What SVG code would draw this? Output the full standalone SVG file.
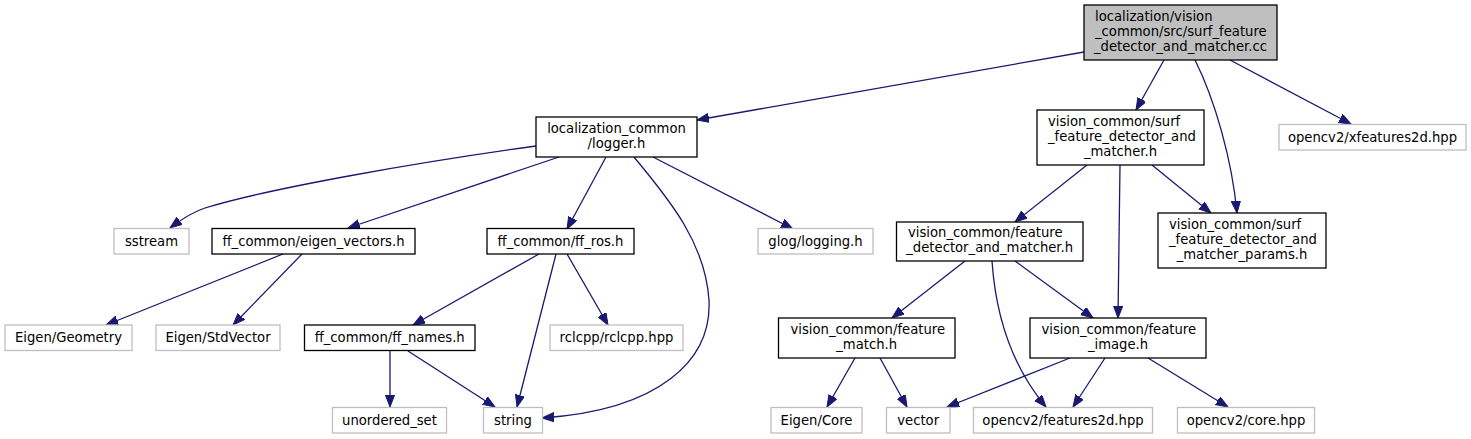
<svg xmlns="http://www.w3.org/2000/svg" width="1471" height="439" viewBox="0 0 1471 439">
<defs>
<style>
text{font-family:"DejaVu Sans","Liberation Sans",sans-serif;font-size:13.2px;fill:#000}
.m{text-anchor:middle}
.s{text-anchor:start}
.n rect{fill:#fff;stroke:#000;stroke-width:1.3}
.g rect{fill:#fff;stroke:#bfbfbf;stroke-width:1.3}
.root rect{fill:#bfbfbf;stroke:#000;stroke-width:1.3}
#edges path{fill:none;stroke:#191970;stroke-width:1.3;marker-end:url(#ah)}
</style>
<marker id="ah" markerUnits="userSpaceOnUse" markerWidth="14" markerHeight="10" refX="12" refY="4.6" orient="auto">
<path d="M0,0 L12,4.6 L0,9.2 z" fill="#191970" stroke="#191970" stroke-width="1"/>
</marker>
</defs>
<rect width="1471" height="439" fill="#fff"/>
<g id="edges">
<path d="M1084,52 L697,120"/>
<path d="M1164,60 L1136,110"/>
<path d="M1195,60 C1215,100 1232,160 1237,213"/>
<path d="M1230,60 L1351,124"/>
<path d="M536,146 C420,162 270,188 205,208 C192,212 182,219 170,228"/>
<path d="M559,157 L348,228"/>
<path d="M606,157 L567,229"/>
<path d="M634,157 C665,195 705,240 709,300 C712,360 660,410 542,418"/>
<path d="M653,157 L793,229"/>
<path d="M283,254 L106,325"/>
<path d="M302,254 L233,325"/>
<path d="M539,254 L413,325"/>
<path d="M556,254 L517,407"/>
<path d="M567,254 L608,325"/>
<path d="M390,351 L390,407"/>
<path d="M408,351 L495,407"/>
<path d="M1087,165 L1015,222"/>
<path d="M1120,165 L1118,318"/>
<path d="M1152,165 L1211,213"/>
<path d="M965,261 L892,318"/>
<path d="M1015,261 L1093,318"/>
<path d="M992,261 C996,320 1015,370 1046,407"/>
<path d="M855,358 L827,407"/>
<path d="M880,358 L907,407"/>
<path d="M1070,358 L947,407"/>
<path d="M1105,358 L1073,407"/>
<path d="M1148,358 L1228,407"/>
</g>
<g id="node_root" class="root"><rect x="1084" y="5" width="193" height="55"/>
<text class="s" x="1095" y="21">localization/vision</text>
<text class="s" x="1095" y="36">_common/src/surf_feature</text>
<text class="m" x="1180.5" y="51">_detector_and_matcher.cc</text></g>
<g id="node_logger" class="n"><rect x="536" y="117" width="161" height="40"/>
<text class="m" x="616.5" y="133">localization_common</text>
<text class="m" x="616.5" y="148">/logger.h</text></g>
<g id="node_sstream" class="g"><rect x="114" y="228.5" width="75" height="25.5"/>
<text class="m" x="151.5" y="245.5">sstream</text></g>
<g id="node_eigen_vectors" class="n"><rect x="212" y="228.5" width="203" height="25.5"/>
<text class="m" x="313.5" y="245.5">ff_common/eigen_vectors.h</text></g>
<g id="node_ff_ros" class="n"><rect x="487" y="228.5" width="147" height="25.5"/>
<text class="m" x="560.5" y="245.5">ff_common/ff_ros.h</text></g>
<g id="node_glog" class="g"><rect x="758" y="228.5" width="115" height="25.5"/>
<text class="m" x="815.5" y="245.5">glog/logging.h</text></g>
<g id="node_geometry" class="g"><rect x="5" y="325" width="127" height="25.5"/>
<text class="m" x="68.5" y="342">Eigen/Geometry</text></g>
<g id="node_stdvector" class="g"><rect x="156" y="325" width="124" height="25.5"/>
<text class="m" x="218" y="342">Eigen/StdVector</text></g>
<g id="node_ff_names" class="n"><rect x="304.5" y="325" width="170.5" height="25.5"/>
<text class="m" x="389.7" y="342">ff_common/ff_names.h</text></g>
<g id="node_rclcpp" class="g"><rect x="550" y="325" width="133" height="25.5"/>
<text class="m" x="616.5" y="342">rclcpp/rclcpp.hpp</text></g>
<g id="node_unordered_set" class="g"><rect x="332.5" y="407.5" width="114" height="25.5"/>
<text class="m" x="389.5" y="424.5">unordered_set</text></g>
<g id="node_string" class="g"><rect x="483.5" y="407.5" width="59" height="25.5"/>
<text class="m" x="513" y="424.5">string</text></g>
<g id="node_surf_h" class="n"><rect x="1037" y="110" width="167" height="55"/>
<text class="s" x="1048" y="126">vision_common/surf</text>
<text class="s" x="1048" y="141">_feature_detector_and</text>
<text class="m" x="1120.5" y="156">_matcher.h</text></g>
<g id="node_xfeatures2d" class="g"><rect x="1279" y="124.5" width="187" height="25.5"/>
<text class="m" x="1372.5" y="141.5">opencv2/xfeatures2d.hpp</text></g>
<g id="node_params" class="n"><rect x="1158" y="213" width="168" height="55"/>
<text class="s" x="1169" y="229">vision_common/surf</text>
<text class="s" x="1169" y="244">_feature_detector_and</text>
<text class="m" x="1242" y="259">_matcher_params.h</text></g>
<g id="node_fdm" class="n"><rect x="896.5" y="222" width="186.5" height="39"/>
<text class="s" x="908" y="237">vision_common/feature</text>
<text class="m" x="989.7" y="252">_detector_and_matcher.h</text></g>
<g id="node_feature_match" class="n"><rect x="778.5" y="318" width="176.5" height="40"/>
<text class="s" x="790.5" y="334">vision_common/feature</text>
<text class="m" x="866.7" y="349">_match.h</text></g>
<g id="node_feature_image" class="n"><rect x="1030" y="318" width="176" height="40"/>
<text class="s" x="1041.5" y="334">vision_common/feature</text>
<text class="m" x="1118" y="349">_image.h</text></g>
<g id="node_eigen_core" class="g"><rect x="771" y="407.5" width="91" height="25.5"/>
<text class="m" x="816.5" y="424.5">Eigen/Core</text></g>
<g id="node_vector" class="g"><rect x="886.5" y="407.5" width="63.5" height="25.5"/>
<text class="m" x="918.2" y="424.5">vector</text></g>
<g id="node_features2d" class="g"><rect x="973.5" y="407.5" width="179" height="25.5"/>
<text class="m" x="1063" y="424.5">opencv2/features2d.hpp</text></g>
<g id="node_core" class="g"><rect x="1177.5" y="407.5" width="137" height="25.5"/>
<text class="m" x="1246" y="424.5">opencv2/core.hpp</text></g>
</svg>
